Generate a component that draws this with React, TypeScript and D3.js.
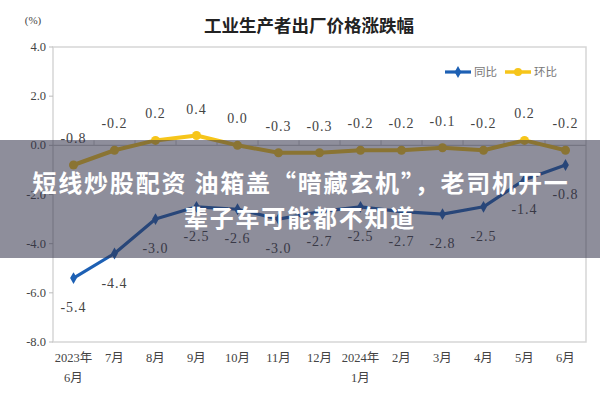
import * as d3 from 'd3'

const months = ['2023年|6月', '7月', '8月', '9月', '10月', '11月', '12月', '2024年|1月', '2月', '3月', '4月', '5月', '6月']
const yoy = [-5.4, -4.4, -3.0, -2.5, -2.6, -3.0, -2.7, -2.5, -2.7, -2.8, -2.5, -1.4, -0.8]
const mom = [-0.8, -0.2, 0.2, 0.4, 0.0, -0.3, -0.3, -0.2, -0.2, -0.1, -0.2, 0.2, -0.2]
const yTicks = [4, 2, 0, -2, -4, -6, -8]

const W = 600
const H = 400
const plot = { left: 53, right: 586, top: 47, bottom: 342 }
const BLUE = '#1d60b4'
const YELLOW = '#f6c51a'
const serif = '"Liberation Serif", "DejaVu Serif", "Noto Sans CJK SC", serif'
const cjk = '"Noto Sans CJK SC", sans-serif'

export default function App() {
  const x = d3.scaleBand<string>().domain(months).range([plot.left, plot.right])
  const y = d3.scaleLinear().domain([-8, 4]).range([plot.bottom, plot.top])
  const cx = (i: number) => x(months[i])! + x.bandwidth() / 2

  const line = d3
    .line<number>()
    .x((_, i) => cx(i))
    .y((d) => y(d))

  const diamond = d3.symbol().type(d3.symbolDiamond).size(40)()!

  return (
    <svg width={W} height={H} style={{ position: 'absolute', left: 0, top: 0, background: '#fff' }}>
      <rect x={0} y={0} width={W} height={H} fill="#fff" />
      <text x={309} y={32} textAnchor="middle" fontFamily={cjk} fontWeight="bold" fontSize={17.5} fill="#222">
        工业生产者出厂价格涨跌幅
      </text>
      <text x={33} y={24} textAnchor="middle" fontFamily={serif} fontSize={11} fill="#444">
        (%)
      </text>

      {/* plot frame */}
      <rect
        x={plot.left}
        y={plot.top}
        width={plot.right - plot.left}
        height={plot.bottom - plot.top}
        fill="none"
        stroke="#d6d6d6"
        strokeWidth={1.5}
      />

      {/* y axis */}
      {yTicks.map((t) => (
        <g key={t}>
          <line x1={plot.left - 4} x2={plot.left} y1={y(t)} y2={y(t)} stroke="#bbb" />
          <text x={plot.left - 7} y={y(t) + 4} textAnchor="end" fontFamily={serif} fontSize={12.5} fill="#444">
            {t.toFixed(1)}
          </text>
        </g>
      ))}

      {/* zero axis with category ticks */}
      <line x1={plot.left} x2={plot.right} y1={y(0)} y2={y(0)} stroke="#c8c8c8" strokeWidth={1.2} />
      {months.slice(1).map((m) => (
        <line key={m} x1={x(m)!} x2={x(m)!} y1={y(0)} y2={y(0) - 5} stroke="#c8c8c8" />
      ))}

      {/* x labels */}
      {months.map((m) => {
        const parts = m.split('|')
        return (
          <text key={m} x={x(m)! + x.bandwidth() / 2} y={362} textAnchor="middle" fontFamily={serif} fontSize={12.5} fill="#444">
            {parts.map((p, j) => (
              <tspan key={j} x={x(m)! + x.bandwidth() / 2} dy={j === 0 ? 0 : 20}>
                {p}
              </tspan>
            ))}
          </text>
        )
      })}

      {/* series */}
      <path d={line(mom)!} fill="none" stroke={YELLOW} strokeWidth={4} strokeLinejoin="round" />
      {mom.map((v, i) => (
        <circle key={i} cx={cx(i)} cy={y(v)} r={4.5} fill={YELLOW} />
      ))}
      <path d={line(yoy)!} fill="none" stroke={BLUE} strokeWidth={3.2} strokeLinejoin="round" />
      {yoy.map((v, i) => (
        <path key={i} d={diamond} transform={`translate(${cx(i)},${y(v)})`} fill={BLUE} />
      ))}

      {/* value labels */}
      {mom.map((v, i) => (
        <text key={i} x={cx(i)} y={y(v) - 22} textAnchor="middle" fontFamily={serif} fontSize={14} letterSpacing={1} fill="#444">
          {v.toFixed(1)}
        </text>
      ))}
      {yoy.map((v, i) => (
        <text key={i} x={cx(i)} y={y(v) + 34} textAnchor="middle" fontFamily={serif} fontSize={14} letterSpacing={1} fill="#444">
          {v.toFixed(1)}
        </text>
      ))}

      {/* legend */}
      <line x1={445} x2={471} y1={72} y2={72} stroke={BLUE} strokeWidth={3.2} />
      <path d={diamond} transform="translate(458,72)" fill={BLUE} />
      <text x={474} y={76} fontFamily={cjk} fontSize={11.5} fill="#777">同比</text>
      <line x1={505} x2={531} y1={72} y2={72} stroke={YELLOW} strokeWidth={3.5} />
      <circle cx={518} cy={72} r={4} fill={YELLOW} />
      <text x={534} y={76} fontFamily={cjk} fontSize={11.5} fill="#777">环比</text>

      {/* overlay banner */}
      <rect x={0} y={140} width={W} height={118} fill="rgb(50,50,72)" fillOpacity={0.55} />
      <text x={301} y={192} textAnchor="middle" fontFamily={cjk} fontWeight="bold" fontSize={24} letterSpacing={1.8} fill="#fff">
        短线炒股配资 油箱盖“暗藏玄机”，老司机开一
      </text>
      <text x={300} y={227} textAnchor="middle" fontFamily={cjk} fontWeight="bold" fontSize={24} letterSpacing={1.8} fill="#fff">
        辈子车可能都不知道
      </text>
    </svg>
  )
}
